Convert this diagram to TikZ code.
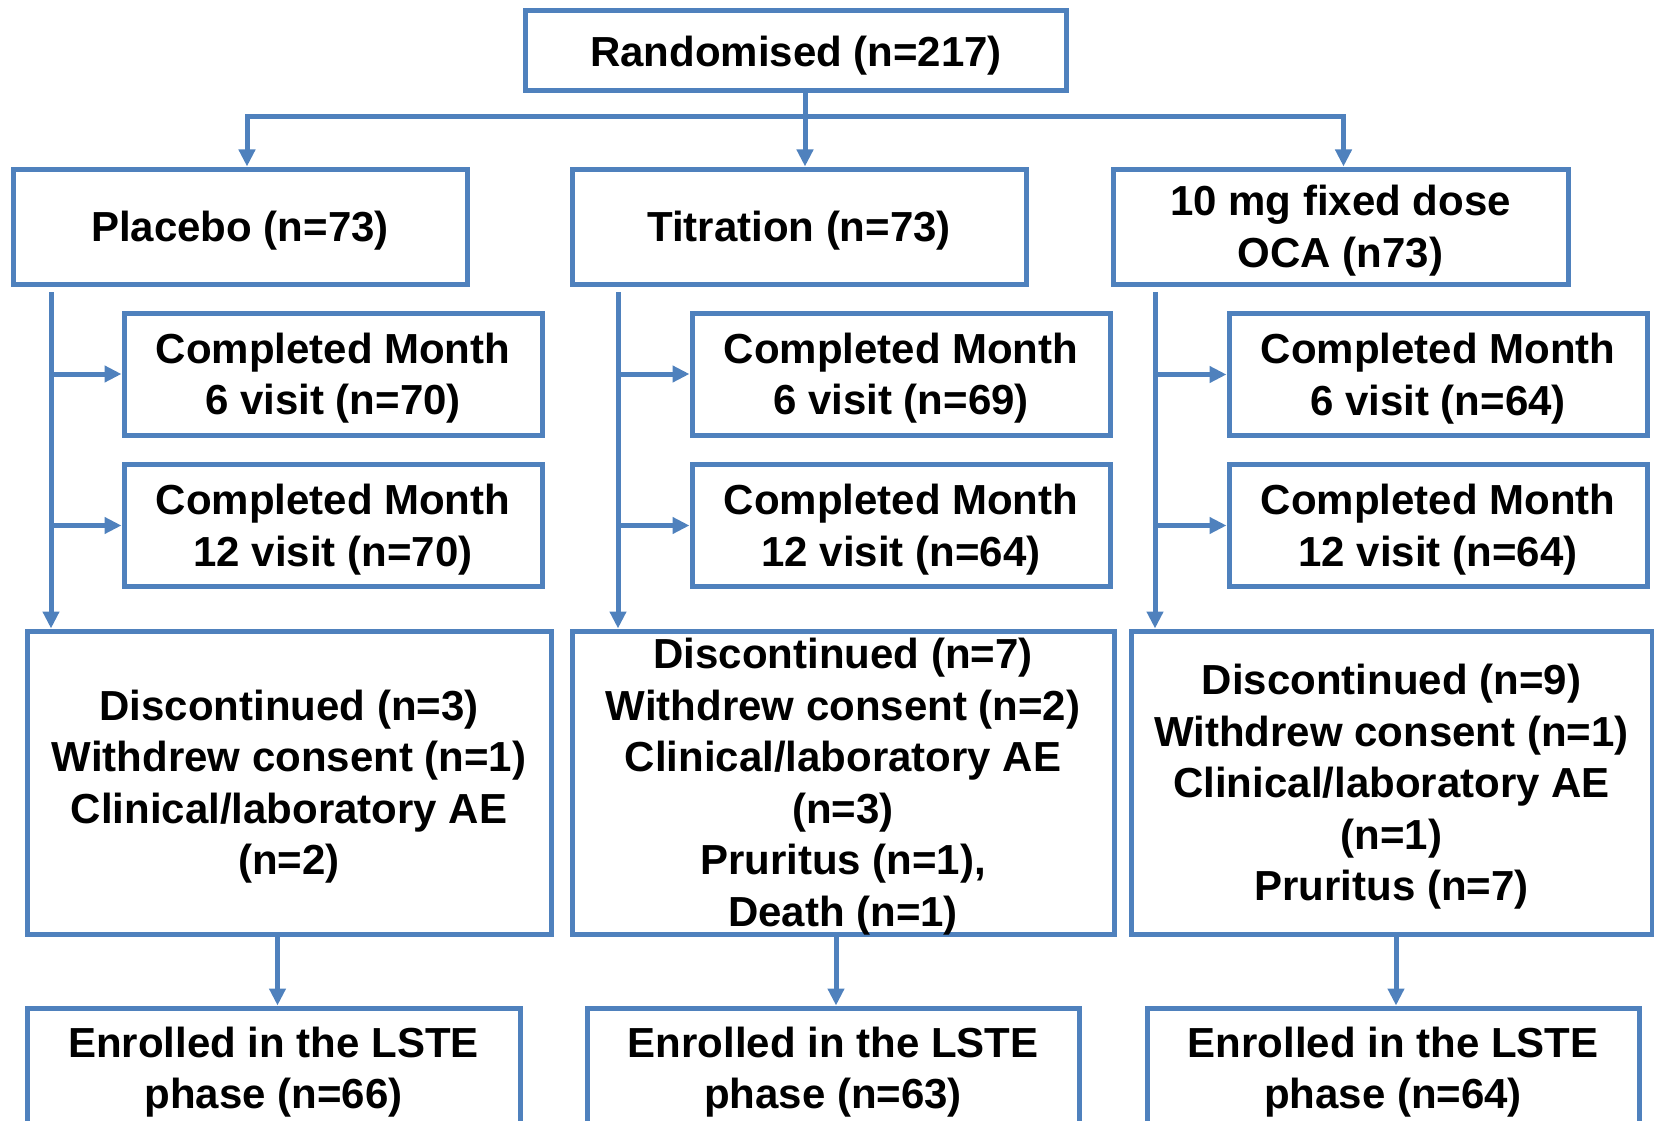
\documentclass[tikz,border=0pt]{standalone}
\usepackage{fontspec}
\setmainfont{Liberation Sans}
\usetikzlibrary{arrows.meta,positioning}
\definecolor{flowblue}{RGB}{79,129,189}
\begin{document}
\begin{tikzpicture}[x=1pt,y=-1pt,
box/.style={draw=flowblue,line width=5pt,align=center,inner sep=0pt,text depth=-4pt,font=\fontsize{42}{51.5}\selectfont\bfseries},
arr/.style={draw=flowblue,line width=5pt,-{Triangle[length=17pt,width=16pt]}}]
\useasboundingbox (0,0) rectangle (1654,1121);
% top level
\node[box,minimum width=541pt,minimum height=80pt] (rand) at (796,51) {Randomised (n=217)};
\node[box,minimum width=454pt,minimum height=115pt] (plc) at (240,226.5) {Placebo (n=73)};
\node[box,minimum width=454pt,minimum height=115pt] (tit) at (799,226.5) {Titration (n=73)};
\node[box,minimum width=455pt,minimum height=115pt] (dose) at (1340.5,226.5) {10 mg fixed dose\\OCA (n73)};
\coordinate (bus) at (0,117);
\draw[arr] ([xshift=6pt]rand.south -| tit.north) -- ([xshift=6pt]tit.north);
\draw[arr] ([xshift=6pt]bus -| tit.north) -| ([xshift=7pt]plc.north);
\draw[arr] ([xshift=6pt]bus -| tit.north) -| ([xshift=3pt]dose.north);
% completed visits
\node[box,minimum width=418pt,minimum height=122pt] (pc6) at (333,374) {Completed Month\\6 visit (n=70)};
\node[box,minimum width=418pt,minimum height=122pt] (pc12) at (333,525.5) {Completed Month\\12 visit (n=70)};
\node[box,minimum width=418pt,minimum height=122pt] (tc6) at (901,374) {Completed Month\\6 visit (n=69)};
\node[box,minimum width=418pt,minimum height=122pt] (tc12) at (901,525.5) {Completed Month\\12 visit (n=64)};
\node[box,minimum width=418pt,minimum height=122pt] (dc6) at (1438,374.5) {Completed Month\\6 visit (n=64)};
\node[box,minimum width=418pt,minimum height=122pt] (dc12) at (1438,525.5) {Completed Month\\12 visit (n=64)};
% discontinued
\node[box,minimum width=524pt,minimum height=303pt] (pdis) at (289,782.5) {Discontinued (n=3)\\Withdrew consent (n=1)\\Clinical/laboratory AE\\(n=2)};
\node[box,minimum width=542pt,minimum height=303pt] (tdis) at (843,782.5) {Discontinued (n=7)\\Withdrew consent (n=2)\\Clinical/laboratory AE\\(n=3)\\Pruritus (n=1),\\Death (n=1)};
\node[box,minimum width=521pt,minimum height=303pt] (ddis) at (1391.5,782.5) {Discontinued (n=9)\\Withdrew consent (n=1)\\Clinical/laboratory AE\\(n=1)\\Pruritus (n=7)};
% trunks
\coordinate (pt) at (51,292);
\coordinate (tt) at (618,292);
\coordinate (dt) at (1155,292);
\draw[arr] (pt) -- (pt |- pdis.north);
\draw[arr] (tt) -- (tt |- tdis.north);
\draw[arr] (dt) -- (dt |- ddis.north);
\draw[arr] (pt |- pc6.west) -- (pc6.west);
\draw[arr] (pt |- pc12.west) -- (pc12.west);
\draw[arr] (tt |- tc6.west) -- (tc6.west);
\draw[arr] (tt |- tc12.west) -- (tc12.west);
\draw[arr] (dt |- dc6.west) -- (dc6.west);
\draw[arr] (dt |- dc12.west) -- (dc12.west);
% enrolled
\node[box,minimum width=493pt,minimum height=120pt] (penr) at (273.5,1068) {Enrolled in the LSTE\\phase (n=66)};
\node[box,minimum width=492pt,minimum height=120pt] (tenr) at (833,1068) {Enrolled in the LSTE\\phase (n=63)};
\node[box,minimum width=492pt,minimum height=120pt] (denr) at (1393,1068) {Enrolled in the LSTE\\phase (n=64)};
\draw[arr] ([xshift=4pt]pdis.south -| penr.north) -- ([xshift=4pt]penr.north);
\draw[arr] ([xshift=3pt]tdis.south -| tenr.north) -- ([xshift=3pt]tenr.north);
\draw[arr] ([xshift=3pt]ddis.south -| denr.north) -- ([xshift=3pt]denr.north);
\end{tikzpicture}
\end{document}
